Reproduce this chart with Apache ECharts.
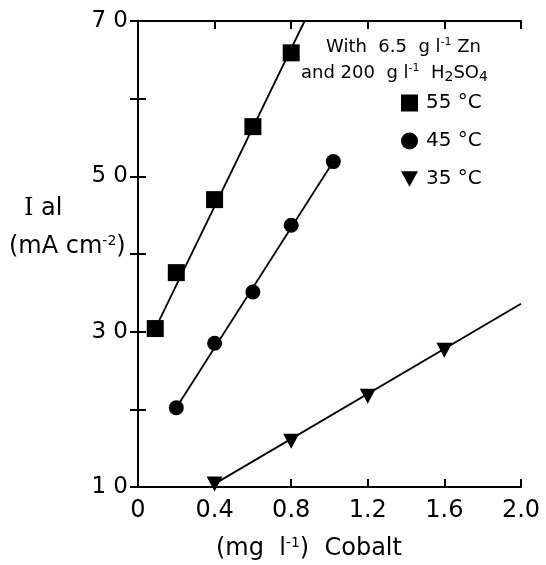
<!DOCTYPE html>
<html>
<head>
  <meta charset="utf-8">
  <title>Ial vs Cobalt</title>
  <script src="https://cdn.jsdelivr.net/npm/echarts@6/dist/echarts.min.js"></script>
  <style>
    html, body { margin: 0; padding: 0; background: #fff; }
  </style>
</head>
<body>
  <div id="main" style="width: 546px; height: 565px;"></div>

  <script>
    // values: [cobalt mg/l, Ial mA/cm2]
    const pts55 = [[0.09, 30.4], [0.2, 37.6], [0.4, 47.0], [0.6, 56.4], [0.8, 65.9]];
    const pts45 = [[0.2, 20.2], [0.4, 28.5], [0.6, 35.1], [0.8, 43.7], [1.02, 51.9]];
    const pts35 = [[0.4, 10.4], [0.8, 15.9], [1.2, 21.7], [1.6, 27.6]];
    // drawn straight lines (ends)
    const fit55 = [[0.09, 30.4], [0.87, 70]];
    const fit45 = [[0.2, 20.2], [1.02, 51.9]];
    const fit35 = [[0.4, 10.4], [2.0, 33.6]];

    const seriesNames = ['55 °C', '45 °C', '35 °C'];
    const xTicks = [0, 0.4, 0.8, 1.2, 1.6, 2.0];
    const yLabelled = [10, 30, 50, 70];

    const downTri = 'path://M0,0L10,0L5,9Z';
    const font = 'DejaVu Sans';

    const chart = echarts.init(document.getElementById('main'));

    const tick = { show: true, inside: true, length: 8, lineStyle: { color: '#000', width: 2 } };
    const axLine = { show: true, lineStyle: { color: '#000', width: 2 } };
    const mark = { color: '#000', opacity: 1 };

    const option = {
      animation: false,
      backgroundColor: '#fff',
      grid: { left: 138, right: 25, top: 21, bottom: 78 },
      legend: {
        data: seriesNames.map((n, i) => ({ name: n, icon: ['rect', 'circle', downTri][i] })),
        orient: 'vertical',
        left: 396,
        top: 88,
        itemGap: 18,
        itemWidth: 17,
        itemHeight: 17,
        textStyle: { fontFamily: font, fontSize: 20, color: '#000', padding: [0, 0, 0, 3] },
        selectedMode: false
      },
      xAxis: [{
        type: 'value', min: 0, max: 2, interval: 0.4,
        axisLine: axLine, axisTick: tick, splitLine: { show: false },
        axisLabel: {
          fontFamily: font, fontSize: 24, color: '#000', margin: 12,
          formatter: v => xTicks.includes(+v.toFixed(1)) ? (v === 0 ? '0' : v.toFixed(1)) : ''
        }
      }, {
        type: 'value', min: 0, max: 2, interval: 0.4, position: 'top',
        axisLine: axLine, axisTick: tick, axisLabel: { show: false }, splitLine: { show: false }
      }],
      yAxis: [{
        type: 'value', min: 10, max: 70, interval: 10,
        axisLine: axLine, axisTick: tick, splitLine: { show: false },
        axisLabel: {
          fontFamily: font, fontSize: 23, color: '#000', margin: 10,
          formatter: v => yLabelled.includes(v) ? String(v).split('').join(' ') : ''
        }
      }, {
        type: 'value', min: 10, max: 70, interval: 10, position: 'right',
        axisLine: axLine, axisTick: tick, axisLabel: { show: false }, splitLine: { show: false }
      }],
      series: [
        { name: '55 °C', type: 'scatter', data: pts55, symbol: 'rect', symbolSize: 17, itemStyle: mark, z: 3 },
        { name: '45 °C', type: 'scatter', data: pts45, symbol: 'circle', symbolSize: 15, itemStyle: mark, z: 3 },
        { name: '35 °C', type: 'scatter', data: pts35, symbol: downTri, symbolSize: [16, 15], itemStyle: mark, z: 3 },
        { type: 'line', data: fit55, symbol: 'none', lineStyle: { color: '#000', width: 1.8 }, silent: true },
        { type: 'line', data: fit45, symbol: 'none', lineStyle: { color: '#000', width: 1.8 }, silent: true },
        { type: 'line', data: fit35, symbol: 'none', lineStyle: { color: '#000', width: 1.8 }, silent: true }
      ],
      graphic: [
        {
          type: 'text', left: 326, top: 37,
          style: {
            text: '{a|With  6.5  g l}{s|-1}{a| Zn}',
            rich: {
              a: { fontFamily: font, fontSize: 18, fill: '#000' },
              s: { fontFamily: font, fontSize: 11, fill: '#000', padding: [0, 0, 9, 0] }
            }
          }
        },
        {
          type: 'text', left: 301, top: 63,
          style: {
            text: '{a|and 200  g l}{s|-1}{a|  H}{b|2}{a|SO}{b|4}',
            rich: {
              a: { fontFamily: font, fontSize: 18, fill: '#000' },
              s: { fontFamily: font, fontSize: 11, fill: '#000', padding: [0, 0, 9, 0] },
              b: { fontFamily: font, fontSize: 14, fill: '#000', padding: [8, 0, 0, 0] }
            }
          }
        },
        {
          type: 'text', left: 24, top: 197,
          style: {
            text: '{i|I}{a| al}',
            rich: {
              i: { fontFamily: 'DejaVu Serif', fontSize: 24, fill: '#000' },
              a: { fontFamily: font, fontSize: 24, fill: '#000' }
            }
          }
        },
        {
          type: 'text', left: 9, top: 234,
          style: {
            text: '{a|(mA c}{a|m}{s|-2}{a|)}',
            rich: {
              a: { fontFamily: font, fontSize: 24, fill: '#000' },
              s: { fontFamily: font, fontSize: 14, fill: '#000', padding: [0, 0, 12, 0] }
            }
          }
        },
        {
          type: 'text', left: 216, top: 536,
          style: {
            text: '{a|(mg  l}{s|-1}{a|)  Cobalt}',
            rich: {
              a: { fontFamily: font, fontSize: 24, fill: '#000' },
              s: { fontFamily: font, fontSize: 14, fill: '#000', padding: [0, 0, 12, 0] }
            }
          }
        }
      ]
    };
    chart.setOption(option);
  </script>
</body>
</html>
